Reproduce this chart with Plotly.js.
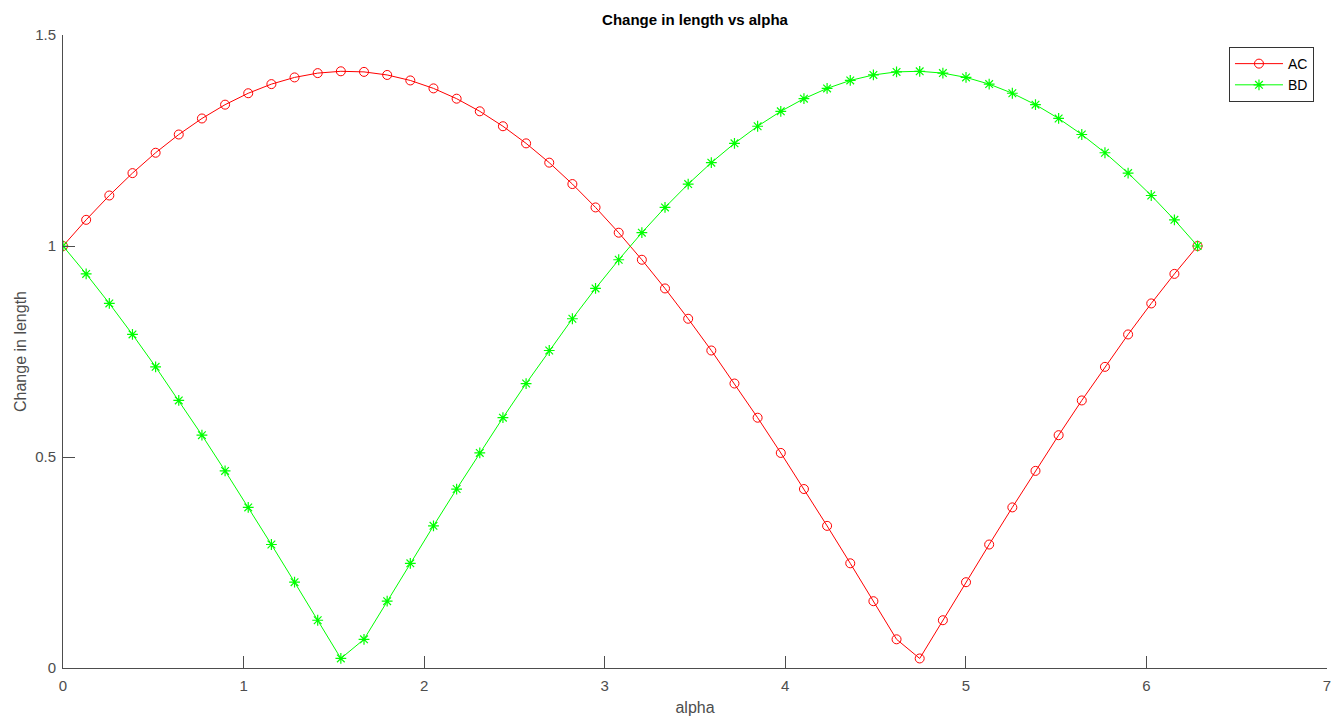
<!DOCTYPE html>
<html>
<head>
<meta charset="utf-8">
<script src="https://cdn.plot.ly/plotly-3.0.1.min.js"></script>
<style>html,body{margin:0;padding:0;background:#fff;}#chart{width:1343px;height:723px;}</style>
</head>
<body>
<div id="chart"></div>
<script>
const alpha = [0, 0.1282, 0.2565, 0.3847, 0.5129, 0.6411, 0.7694, 0.8976, 1.0258, 1.1541,
  1.2823, 1.4105, 1.5387, 1.6670, 1.7952, 1.9234, 2.0517, 2.1799, 2.3081, 2.4363,
  2.5646, 2.6928, 2.8210, 2.9492, 3.0775, 3.2057, 3.3339, 3.4622, 3.5904, 3.7186,
  3.8468, 3.9751, 4.1033, 4.2315, 4.3598, 4.4880, 4.6162, 4.7444, 4.8727, 5.0009,
  5.1291, 5.2574, 5.3856, 5.5138, 5.6420, 5.7703, 5.8985, 6.0267, 6.1550, 6.2832];
const AC = [1.0000, 1.0620, 1.1197, 1.1727, 1.2210, 1.2642, 1.3022, 1.3349, 1.3620, 1.3836,
  1.3995, 1.4097, 1.4140, 1.4126, 1.4053, 1.3923, 1.3735, 1.3491, 1.3192, 1.2838,
  1.2432, 1.1975, 1.1468, 1.0914, 1.0315, 0.9674, 0.8994, 0.8276, 0.7524, 0.6741,
  0.5931, 0.5096, 0.4241, 0.3368, 0.2481, 0.1583, 0.0680, 0.0226, 0.1132, 0.2033,
  0.2926, 0.3806, 0.4671, 0.5517, 0.6340, 0.7136, 0.7904, 0.8639, 0.9339, 1.0000];
const BD = [1.0000, 0.9339, 0.8639, 0.7904, 0.7136, 0.6340, 0.5517, 0.4671, 0.3806, 0.2926,
  0.2033, 0.1132, 0.0226, 0.0680, 0.1583, 0.2481, 0.3368, 0.4241, 0.5096, 0.5931,
  0.6741, 0.7524, 0.8276, 0.8994, 0.9674, 1.0315, 1.0914, 1.1468, 1.1975, 1.2432,
  1.2838, 1.3192, 1.3491, 1.3735, 1.3923, 1.4053, 1.4126, 1.4140, 1.4097, 1.3995,
  1.3836, 1.3620, 1.3349, 1.3022, 1.2642, 1.2210, 1.1727, 1.1197, 1.0620, 1.0000];
const xTicks = [0, 1, 2, 3, 4, 5, 6, 7];
const yTicks = [0, 0.5, 1, 1.5];

const font = 'Liberation Sans, Arial, Helvetica, sans-serif';
const traces = [
  {x: alpha, y: AC, name: 'AC', type: 'scatter', mode: 'lines+markers',
   line: {color: '#ff0000', width: 1},
   marker: {symbol: 'circle-open', size: 9, color: '#ff0000', line: {width: 1, color: '#ff0000'}}},
  {x: alpha, y: BD, name: 'BD', type: 'scatter', mode: 'lines+markers',
   line: {color: '#00ff00', width: 1},
   marker: {symbol: 'asterisk-open', size: 9, color: '#00ff00', line: {width: 1.2, color: '#00ff00'}}}
];
const layout = {
  width: 1343, height: 723,
  margin: {l: 63, r: 16, t: 35, b: 55},
  paper_bgcolor: '#fff', plot_bgcolor: '#fff',
  font: {family: font, size: 15, color: '#4d4d4d'},
  title: {text: 'Change in length vs alpha', font: {family: font, size: 15, color: '#000', weight: 'bold'},
          x: 0.5, xanchor: 'center', y: 0.973, yanchor: 'middle', xref: 'paper'},
  xaxis: {range: [0, 7], tickvals: xTicks, ticktext: xTicks.map(String), ticks: 'inside', ticklen: 12,
          tickcolor: '#4d4d4d', showline: true, linecolor: '#4d4d4d', linewidth: 1, zeroline: false,
          showgrid: false, mirror: false, tickfont: {size: 15, color: '#4d4d4d'}, ticklabelstandoff: 4,
          title: {text: 'alpha', font: {size: 16, color: '#4d4d4d'}, standoff: 8}},
  yaxis: {range: [0, 1.5], tickvals: yTicks, ticktext: yTicks.map(String), ticks: 'inside', ticklen: 12,
          tickcolor: '#4d4d4d', showline: true, linecolor: '#4d4d4d', linewidth: 1, zeroline: false,
          showgrid: false, mirror: false, tickfont: {size: 15, color: '#4d4d4d'}, ticklabelstandoff: 3,
          title: {text: 'Change in length', font: {size: 16, color: '#4d4d4d'}, standoff: 4}},
  legend: {x: 0.9897, xanchor: 'right', y: 0.981, yanchor: 'top', bgcolor: '#fff', itemwidth: 48,
           bordercolor: '#333', borderwidth: 1, font: {size: 14, color: '#000'}, tracegroupgap: 0},
  showlegend: true
};
Plotly.newPlot('chart', traces, layout, {displayModeBar: false, staticPlot: true});
</script>
</body>
</html>
